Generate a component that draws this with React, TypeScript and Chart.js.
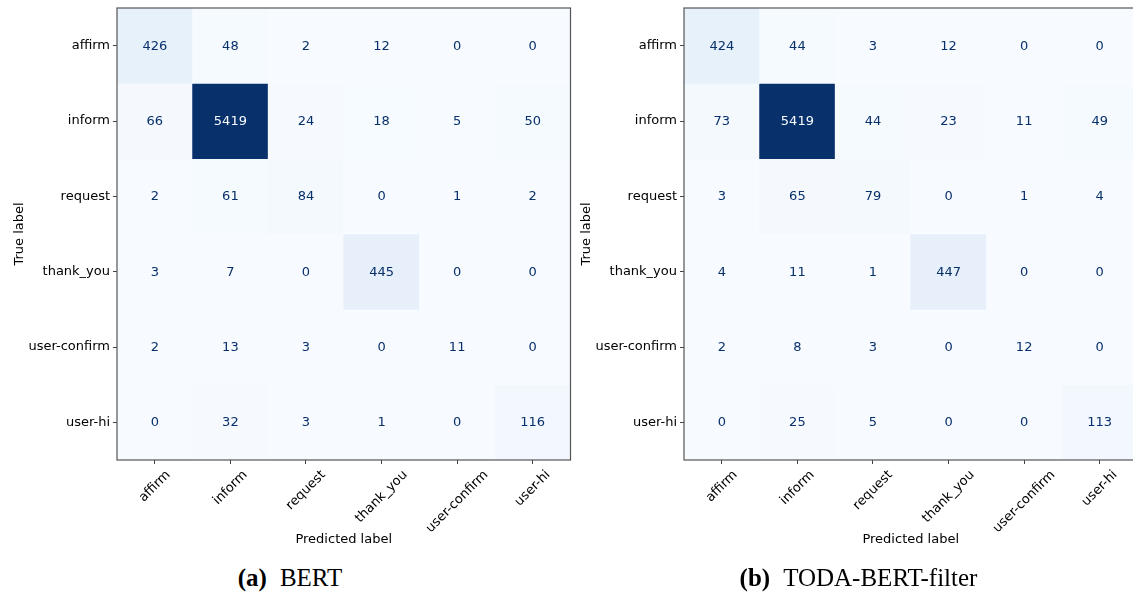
import React, { useEffect, useRef } from 'react';
import { Chart, registerables } from 'chart.js';

Chart.register(...registerables);

// ---------- data ----------
const predictedLabels = ['affirm', 'inform', 'request', 'thank_you', 'user-confirm', 'user-hi'];
const trueLabels = ['affirm', 'inform', 'request', 'thank_you', 'user-confirm', 'user-hi'];

const bertCounts = [
  [426, 48, 2, 12, 0, 0],
  [66, 5419, 24, 18, 5, 50],
  [2, 61, 84, 0, 1, 2],
  [3, 7, 0, 445, 0, 0],
  [2, 13, 3, 0, 11, 0],
  [0, 32, 3, 1, 0, 116],
];

const todaCounts = [
  [424, 44, 3, 12, 0, 0],
  [73, 5419, 44, 23, 11, 49],
  [3, 65, 79, 0, 1, 4],
  [4, 11, 1, 447, 0, 0],
  [2, 8, 3, 0, 12, 0],
  [0, 25, 5, 0, 0, 113],
];

const captionTags = ['(a)', '(b)'];
const captionNames = ['BERT', 'TODA-BERT-filter'];
const xTitle = 'Predicted label';
const yTitle = 'True label';

// ---------- style ----------
const BLUES: number[][] = [
  [247, 251, 255], [222, 235, 247], [198, 219, 239], [158, 202, 225], [107, 174, 214],
  [66, 146, 198], [33, 113, 181], [8, 81, 156], [8, 48, 107],
];
function blues(t: number): string {
  const tt = Math.max(0, Math.min(1, t)) * (BLUES.length - 1);
  const i = Math.min(Math.floor(tt), BLUES.length - 2);
  const f = tt - i;
  const a = BLUES[i], b = BLUES[i + 1];
  const c = a.map((v, k) => Math.round(v + (b[k] - v) * f));
  return `rgb(${c[0]},${c[1]},${c[2]})`;
}
const FONT_FAMILY = '"DejaVu Sans", sans-serif';
const FONT_SIZE = 13;
const CANVAS_W = 575;
const CANVAS_H = 560;

function ConfusionMatrix({ counts, left }: { counts: number[][]; left: number }) {
  const ref = useRef<HTMLCanvasElement | null>(null);
  useEffect(() => {
    if (!ref.current) return;
    const flat = counts.flat();
    const maxV = Math.max(...flat);
    const minV = Math.min(...flat);
    const thresh = (maxV + minV) / 2;

    const decor = {
      id: 'matrixDecor',
      afterDatasetsDraw(chart: any) {
        const { ctx, chartArea, scales } = chart;
        const xs = scales.x, ys = scales.y;
        ctx.save();
        ctx.font = `${FONT_SIZE}px ${FONT_FAMILY}`;
        ctx.textAlign = 'center';
        ctx.textBaseline = 'middle';
        counts.forEach((row, i) => {
          row.forEach((v, j) => {
            ctx.fillStyle = v > thresh ? blues(0) : blues(1);
            ctx.fillText(String(v), xs.getPixelForValue(j), ys.getPixelForValue(i) + 0.5);
          });
        });
        // frame
        ctx.strokeStyle = '#555';
        ctx.lineWidth = 1.2;
        ctx.strokeRect(chartArea.left, chartArea.top, chartArea.right - chartArea.left, chartArea.bottom - chartArea.top);
        // rotated x tick labels (centred like matplotlib)
        ctx.fillStyle = '#000';
        const h = FONT_SIZE * 1.164;
        const yTop = chartArea.bottom + 4 + 3.5;
        predictedLabels.forEach((lab, j) => {
          const w = ctx.measureText(lab).width;
          const B = (w + h) / Math.SQRT2;
          const cx = xs.getPixelForValue(j);
          const cy = yTop + B / 2;
          ctx.save();
          ctx.translate(cx, cy);
          ctx.rotate(-Math.PI / 4);
          ctx.fillText(lab, 0, 0);
          ctx.restore();
        });
        ctx.restore();
      },
    };

    const chart = new Chart(ref.current, {
      type: 'bar',
      data: {
        labels: predictedLabels,
        datasets: trueLabels.map((lab, i) => ({
          label: lab,
          data: predictedLabels.map(() => [i - 0.5, i + 0.5]) as any,
          backgroundColor: counts[i].map((v) => blues((v - minV) / (maxV - minV))),
          borderWidth: 0,
          grouped: false,
          barPercentage: 1,
          categoryPercentage: 1,
        })),
      },
      options: {
        animation: false,
        responsive: false,
        maintainAspectRatio: false,
        layout: { padding: { top: 8, right: 4.5, left: 0, bottom: 0 } },
        plugins: { legend: { display: false }, tooltip: { enabled: false } },
        scales: {
          x: {
            type: 'category',
            offset: true,
            grid: { display: true, drawOnChartArea: false, drawTicks: true, tickLength: 4, offset: false, color: '#444', lineWidth: 1 },
            border: { display: false },
            ticks: { display: false },
            title: {
              display: true, text: xTitle, color: '#000',
              font: { family: FONT_FAMILY, size: FONT_SIZE },
              padding: { top: 0, bottom: 12.5 },
            },
            afterFit: (s: any) => { s.height = CANVAS_H - 460; s.paddingLeft = 0; s.paddingRight = 0; },
          },
          y: {
            type: 'linear',
            reverse: true,
            min: -0.5,
            max: 5.5,
            afterBuildTicks: (s: any) => { s.ticks = trueLabels.map((_, i) => ({ value: i })); },
            grid: { display: true, drawOnChartArea: false, drawTicks: true, tickLength: 4, color: '#444', lineWidth: 1 },
            border: { display: false },
            ticks: {
              autoSkip: false,
              padding: 3,
              color: '#000',
              font: { family: FONT_FAMILY, size: FONT_SIZE },
              callback: (v: any) => trueLabels[v as number] ?? '',
            },
            title: {
              display: true, text: yTitle, color: '#000',
              font: { family: FONT_FAMILY, size: FONT_SIZE },
              padding: { top: 11.5, bottom: 0 },
            },
            afterFit: (s: any) => { s.width = 117; s.paddingTop = 0; s.paddingBottom = 0; },
          },
        },
      } as any,
      plugins: [decor],
    });
    return () => chart.destroy();
  }, [counts]);

  return (
    <canvas
      ref={ref}
      width={CANVAS_W}
      height={CANVAS_H}
      style={{ position: 'absolute', left, top: 0, width: CANVAS_W, height: CANVAS_H }}
    />
  );
}

function Caption({ idx, center }: { idx: number; center: number }) {
  const width = 600;
  return (
    <div
      style={{
        position: 'absolute',
        left: center - width / 2,
        top: 563.5,
        width,
        textAlign: 'center',
        fontFamily: '"Liberation Serif", serif',
        fontSize: 25,
        lineHeight: '28px',
        color: '#000',
        whiteSpace: 'nowrap',
      }}
    >
      <b>{captionTags[idx]}</b>
      <span style={{ marginLeft: 13 }}>{captionNames[idx]}</span>
    </div>
  );
}

export default function App() {
  return (
    <div
      style={{
        position: 'absolute',
        left: 0,
        top: 0,
        width: 1133,
        height: 596,
        overflow: 'hidden',
        background: '#fff',
      }}
    >
      <ConfusionMatrix counts={bertCounts} left={0} />
      <ConfusionMatrix counts={todaCounts} left={567} />
      <Caption idx={0} center={290} />
      <Caption idx={1} center={858.5} />
    </div>
  );
}
